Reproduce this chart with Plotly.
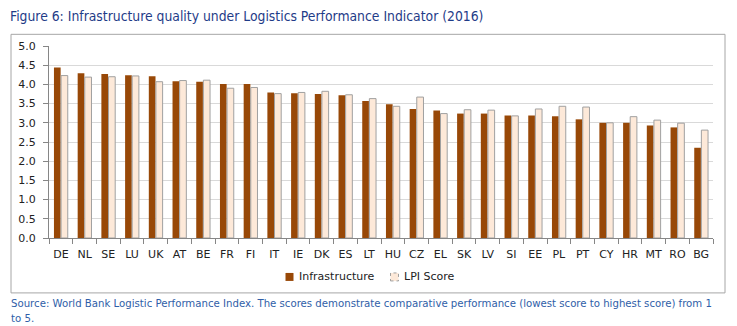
import plotly.graph_objects as go

countries = ["DE","NL","SE","LU","UK","AT","BE","FR","FI","IT","IE","DK","ES","LT",
             "HU","CZ","EL","SK","LV","SI","EE","PL","PT","CY","HR","MT","RO","BG"]
infrastructure = [4.44,4.29,4.27,4.24,4.21,4.08,4.07,4.01,4.01,3.79,3.77,3.75,3.72,3.57,
                  3.48,3.36,3.32,3.24,3.24,3.19,3.19,3.17,3.09,3.00,3.00,2.93,2.88,2.35]
lpi_score = [4.23,4.19,4.20,4.22,4.07,4.10,4.11,3.90,3.92,3.76,3.79,3.82,3.73,3.63,
             3.43,3.67,3.24,3.34,3.33,3.18,3.36,3.43,3.41,3.00,3.16,3.07,2.99,2.81]
y_ticks = [0.0,0.5,1.0,1.5,2.0,2.5,3.0,3.5,4.0,4.5,5.0]
series_names = ["Infrastructure", "LPI Score"]

W_FIG, H_FIG = 737, 326
L, R, T, B = 49, 713, 45.7, 238
PW, PH = R - L, B - T

def px(x):
    return (x - L) / PW

def py(y):
    return (B - y) / PH

INFRA_C = "#984807"
LPI_C = "#FDE9D9"
LPI_LINE = "#a0a0a0"
COND = "DejaVu Sans Condensed, Liberation Sans Narrow, Roboto Condensed, sans-serif"

fig = go.Figure()
fig.add_trace(go.Bar(x=countries, y=infrastructure, name=series_names[0], showlegend=False,
                     marker=dict(color=INFRA_C, line=dict(width=0))))
fig.add_trace(go.Bar(x=countries, y=lpi_score, name=series_names[1], showlegend=False,
                     marker=dict(color=LPI_C, line=dict(color=LPI_LINE, width=1))))

axis_font = dict(family="DejaVu Sans", size=11, color="#222222")
fig.update_layout(
    width=W_FIG, height=H_FIG,
    margin=dict(l=L, r=W_FIG - R, t=T, b=H_FIG - B, pad=0),
    paper_bgcolor="white", plot_bgcolor="white",
    barmode="group", bargap=0.40, bargroupgap=0.06,
    showlegend=False,
    xaxis=dict(type="category", showgrid=False, showline=True, linecolor="#868686", linewidth=1,
               ticks="outside", tickson="boundaries", ticklen=5, tickcolor="#868686",
               tickangle=0, tickfont=axis_font, ticklabelstandoff=6, fixedrange=True),
    yaxis=dict(range=[0, 5], tickvals=y_ticks, tickformat=".1f", showgrid=True,
               gridcolor="#d9d9d9", gridwidth=1, showline=True, linecolor="#868686",
               linewidth=1, ticks="outside", ticklen=5, tickcolor="#868686",
               tickfont=axis_font, ticklabelstandoff=5, zeroline=False, fixedrange=True),
    font=dict(family="DejaVu Sans"),
)

# chart frame
fig.add_shape(type="rect", xref="paper", yref="paper",
              x0=px(11), x1=px(725), y0=py(293), y1=py(34),
              line=dict(color="#a6a6a6", width=1), fillcolor="rgba(0,0,0,0)", layer="below")

# legend (manual, to match compact swatches)
leg_y = 277
fig.add_shape(type="rect", xref="paper", yref="paper",
              x0=px(285.5), x1=px(293.5), y0=py(leg_y + 4), y1=py(leg_y - 4),
              line=dict(width=0), fillcolor=INFRA_C)
fig.add_annotation(xref="paper", yref="paper", x=px(297), y=py(leg_y), xanchor="left",
                   yanchor="middle", text=series_names[0], showarrow=False,
                   font=dict(family="DejaVu Sans", size=11, color="#222222"))
fig.add_shape(type="rect", xref="paper", yref="paper",
              x0=px(390.5), x1=px(398.5), y0=py(leg_y + 4), y1=py(leg_y - 4),
              line=dict(width=1, color=LPI_LINE, dash="dot"), fillcolor=LPI_C)
fig.add_annotation(xref="paper", yref="paper", x=px(402), y=py(leg_y), xanchor="left",
                   yanchor="middle", text=series_names[1], showarrow=False,
                   font=dict(family="DejaVu Sans", size=11, color="#222222"))

fig.add_annotation(xref="paper", yref="paper", x=px(8), y=py(16), xanchor="left", yanchor="middle",
                   text="Figure 6: Infrastructure quality under Logistics Performance Indicator (2016)",
                   showarrow=False, align="left",
                   font=dict(family=COND, size=13.8, color="#1f3c88"))
fig.add_annotation(xref="paper", yref="paper", x=px(9), y=py(295), xanchor="left", yanchor="top",
                   text="Source: World Bank Logistic Performance Index. The scores demonstrate comparative performance (lowest score to highest score) from 1<br>to 5.",
                   showarrow=False, align="left",
                   font=dict(family=COND, size=11.3, color="#2f5ea8"))

fig.write_html("out.html")
